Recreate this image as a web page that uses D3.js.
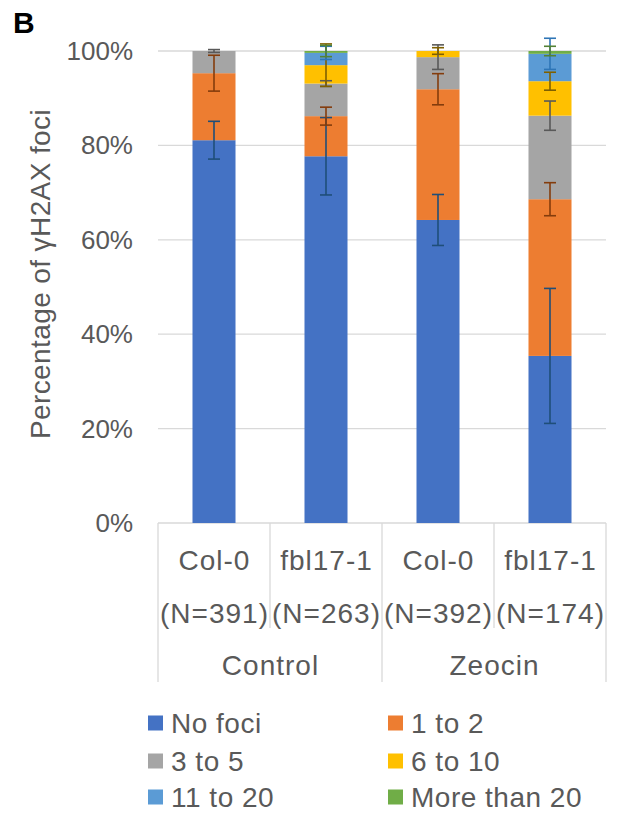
<!DOCTYPE html>
<html>
<head>
<meta charset="utf-8">
<script src="https://cdn.jsdelivr.net/npm/d3@7.9.0/dist/d3.min.js"></script>
<style>
  body { margin: 0; background: #fff; }
  svg { display: block; font-family: "Liberation Sans", Arial, sans-serif; }
</style>
</head>
<body>
<svg id="chart" width="620" height="821"></svg>
<script>
// data (percent)
const bars = ["Col-0", "fbl17-1", "Col-0", "fbl17-1"];
const nLabels = ["(N=391)", "(N=263)", "(N=392)", "(N=174)"];
const groups = ["Control", "Zeocin"];
const series = ["No foci", "1 to 2", "3 to 5", "6 to 10", "11 to 20", "More than 20"];
const yTicks = [0, 20, 40, 60, 80, 100];

const noFoci = [81.1, 77.7, 64.2, 35.4];
const oneToTwo = [14.2, 8.5, 27.7, 33.2];
const threeToFive = [4.7, 6.9, 6.8, 17.7];
const sixToTen = [0, 3.9, 1.3, 7.3];
const elevenToTwenty = [0, 2.6, 0, 5.8];
const moreThan20 = [0, 0.4, 0, 0.6];

const noFociErr = [4.0, 8.2, 5.4, 14.3];
const oneToTwoErr = [3.8, 1.9, 3.3, 3.5];
const threeToFiveErr = [0.3, 0.6, 2.6, 3.1];
const sixToTenErr = [0, 4.5, 0.7, 1.9];
const elevenToTwentyErr = [0, 1.4, 0, 3.3];
const moreThan20Err = [0, 1.2, 0, 1.0];

const colors = ["#4472C4", "#ED7D31", "#A5A5A5", "#FFC000", "#5B9BD5", "#70AD47"];
const errColors = ["#1F4E79", "#843C0C", "#595959", "#7F6000", "#2E75B6", "#548235"];

const values = [noFoci, oneToTwo, threeToFive, sixToTen, elevenToTwenty, moreThan20];
const errors = [noFociErr, oneToTwoErr, threeToFiveErr, sixToTenErr, elevenToTwentyErr, moreThan20Err];

// table for d3.stack
const table = bars.map((b, i) => {
  let row = { idx: i };
  series.forEach((s, k) => row[s] = values[k][i]);
  return row;
});

const svg = d3.select('#chart');
const textColor = "#595959";
const gridColor = "#D9D9D9";

const plotLeft = 158, plotRight = 606, plotTop = 51, plotBottom = 523;

let y = d3.scaleLinear().domain([0, 100]).range([plotBottom, plotTop]);
let x = d3.scaleBand().domain(d3.range(bars.length)).range([plotLeft, plotRight])
  .paddingInner(0.616).paddingOuter(0.308);
let step = x.step();

// gridlines
svg.append('g').selectAll('line').data(yTicks).join('line')
  .attr('x1', plotLeft).attr('x2', plotRight)
  .attr('y1', d => y(d)).attr('y2', d => y(d))
  .attr('stroke', gridColor).attr('stroke-width', 1.3);

// y tick labels
svg.append('g').selectAll('text').data(yTicks).join('text')
  .attr('x', 133).attr('y', d => y(d) + 9)
  .attr('text-anchor', 'end')
  .attr('font-size', 26).attr('fill', textColor)
  .text(d => d + '%');

// y axis title
svg.append('text')
  .attr('transform', 'translate(50,274) rotate(-90)')
  .attr('text-anchor', 'middle')
  .attr('font-size', 28).attr('letter-spacing', 0.4).attr('fill', textColor)
  .text('Percentage of γH2AX foci');

// panel label
svg.append('text')
  .attr('x', 13).attr('y', 33)
  .attr('font-size', 30).attr('font-weight', 'bold').attr('fill', '#000')
  .text('B');

// stacked bars
let stacked = d3.stack().keys(series)(table);

stacked.forEach((layer, k) => {
  svg.append('g').selectAll('rect').data(layer).join('rect')
    .attr('x', (d, i) => x(i))
    .attr('width', x.bandwidth())
    .attr('y', d => y(d[1]))
    .attr('height', d => y(d[0]) - y(d[1]))
    .attr('fill', colors[k]);
});

// error bars at the top of each segment
stacked.forEach((layer, k) => {
  layer.forEach((d, i) => {
    let e = errors[k][i];
    if (!e) return;
    let cx = x(i) + x.bandwidth() / 2;
    let g = svg.append('g').attr('stroke', errColors[k]).attr('stroke-width', 1.6);
    g.append('line').attr('x1', cx).attr('x2', cx)
      .attr('y1', y(d[1] + e)).attr('y2', y(d[1] - e));
    [d[1] + e, d[1] - e].forEach(v => {
      g.append('line').attr('x1', cx - 6).attr('x2', cx + 6)
        .attr('y1', y(v)).attr('y2', y(v));
    });
  });
});

// category axis dividers
let dividers = d3.range(bars.length + 1).map(i => plotLeft + i * step);
svg.append('g').selectAll('line').data(dividers).join('line')
  .attr('x1', d => d).attr('x2', d => d)
  .attr('y1', plotBottom)
  .attr('y2', (d, i) => i % 2 === 0 ? 682 : 628)
  .attr('stroke', gridColor).attr('stroke-width', 1.3);

// category labels (text-anchor middle; letter-spacing pads the end, so shift by half)
const catSpacing = 1;
svg.append('g').selectAll('text').data(bars).join('text')
  .attr('x', (d, i) => x(i) + x.bandwidth() / 2 + catSpacing / 2).attr('y', 570)
  .attr('text-anchor', 'middle').attr('font-size', 28).attr('letter-spacing', catSpacing)
  .attr('fill', textColor)
  .text(d => d);

svg.append('g').selectAll('text').data(nLabels).join('text')
  .attr('x', (d, i) => x(i) + x.bandwidth() / 2 + catSpacing / 2).attr('y', 623)
  .attr('text-anchor', 'middle').attr('font-size', 28).attr('letter-spacing', catSpacing)
  .attr('fill', textColor)
  .text(d => d);

svg.append('g').selectAll('text').data(groups).join('text')
  .attr('x', (d, i) => plotLeft + (2 * i + 1) * step + catSpacing / 2).attr('y', 675)
  .attr('text-anchor', 'middle').attr('font-size', 28).attr('letter-spacing', catSpacing)
  .attr('fill', textColor)
  .text(d => d);

// legend
let legendRows = [723, 761, 797];
let legendCols = [148, 388];
let legend = svg.append('g');
series.forEach((s, k) => {
  let lx = legendCols[k % 2];
  let ly = legendRows[Math.floor(k / 2)];
  legend.append('rect')
    .attr('x', lx).attr('y', ly - 7.5).attr('width', 15).attr('height', 15)
    .attr('fill', colors[k]);
  legend.append('text')
    .attr('x', lx + 23).attr('y', ly + 10)
    .attr('font-size', 28).attr('letter-spacing', 0.5).attr('fill', textColor)
    .text(s);
});
</script>
</body>
</html>
